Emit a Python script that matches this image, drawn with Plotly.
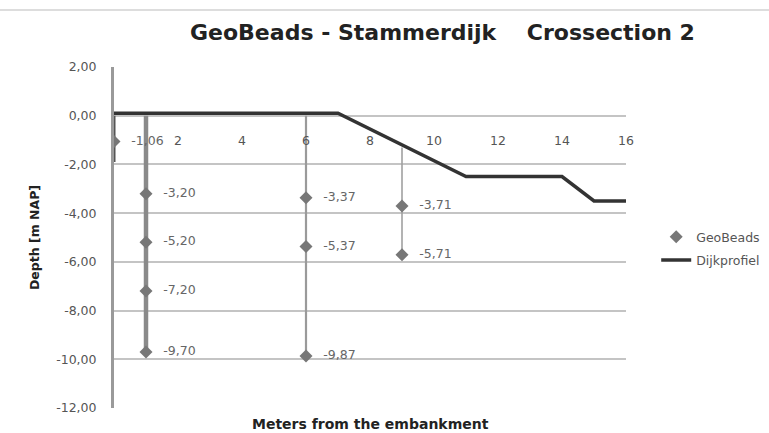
import plotly.graph_objects as go

# GeoBeads measurements (x = meters from embankment, depth in m NAP)
bead_x = [0, 1, 1, 1, 1, 6, 6, 6, 9, 9]
bead_y = [-1.06, -3.20, -5.20, -7.20, -9.70, -3.37, -5.37, -9.87, -3.71, -5.71]

# Vertical tubes holding the beads
tube_x = [0, 1, 6, 9]
tube_top = [0.0, 0.0, 0.0, -1.3]
tube_bottom = [-1.9, -9.70, -9.87, -5.71]

# Dike profile
dijk_x = [0, 7, 11, 14, 15, 16]
dijk_y = [0.1, 0.1, -2.5, -2.5, -3.5, -3.5]

x_ticks = [2, 4, 6, 8, 10, 12, 14, 16]
y_ticks = [2, 0, -2, -4, -6, -8, -10, -12]


def nl(v):
    return f"{v:.2f}".replace(".", ",")


tube_styles = [("#555555", 3), ("#8a8a8a", 4.5), ("#9a9a9a", 2.2), ("#a0a0a0", 1.6)]

NUM_FONT = "DejaVu Sans, Verdana, sans-serif"

fig = go.Figure()

for i, (tx, t0, t1) in enumerate(zip(tube_x, tube_top, tube_bottom)):
    col, w = tube_styles[i]
    fig.add_trace(go.Scatter(x=[tx, tx], y=[t0, t1], mode="lines",
                             line=dict(color=col, width=w), showlegend=False,
                             hoverinfo="skip"))

fig.add_trace(go.Scatter(
    x=bead_x, y=bead_y, mode="markers+text", name="GeoBeads",
    marker=dict(symbol="diamond", size=10, color="#777777"),
    text=["\u2009\u2009\u2009\u2009" + nl(v) for v in bead_y],
    textposition="middle right",
    textfont=dict(family=NUM_FONT, size=12.5, color="#666666"),
    legendgroup="a",
))

fig.add_trace(go.Scatter(
    x=dijk_x, y=dijk_y, mode="lines", name="Dijkprofiel",
    line=dict(color="#333333", width=3.5), legendgroup="b",
))

fig.update_layout(
    width=769, height=433,
    margin=dict(l=114, r=143, t=67, b=25, autoexpand=False),
    paper_bgcolor="white", plot_bgcolor="white",
    separators=",.",
    title=dict(text="GeoBeads - Stammerdijk\u00a0\u00a0\u00a0\u00a0Crossection 2",
               x=190 / 769, xanchor="left", xref="container",
               y=1 - 32 / 433, yanchor="middle",
               font=dict(family="DejaVu Sans, sans-serif", size=22, color="#222222", weight="bold")),
    xaxis=dict(range=[0, 16], tickvals=x_ticks, showgrid=False, zeroline=False,
               showline=False, anchor="free", position=12 / 14, automargin=False,
               ticks="outside", ticklen=13, tickcolor="rgba(0,0,0,0)",
               tickfont=dict(family=NUM_FONT, size=12.5, color="#555555")),
    yaxis=dict(range=[-12, 2], tickvals=y_ticks, ticktext=[nl(v) for v in y_ticks],
               automargin=False,
               showgrid=True, gridcolor="#c4c4c4", gridwidth=2, zeroline=False,
               showline=True, linecolor="#9a9a9a", linewidth=3,
               ticks="outside", ticklen=12, tickcolor="rgba(0,0,0,0)",
               tickfont=dict(family=NUM_FONT, size=12.5, color="#555555"),
               title=dict(text="Depth [m NAP]", standoff=14,
                          font=dict(family="DejaVu Sans, Arial", size=12.5, color="#222222", weight="bold"))),
    legend=dict(x=1.059, y=0.545, xanchor="left", yanchor="top",
                font=dict(family=NUM_FONT, size=12.5, color="#555555"),
                tracegroupgap=4, traceorder="grouped", bgcolor="rgba(0,0,0,0)"),
    annotations=[dict(text="<b>Meters from the embankment</b>", xref="paper", yref="paper",
                      x=0.5, y=(408 - 424) / 341, xanchor="center", yanchor="middle", showarrow=False,
                      font=dict(family="DejaVu Sans, Arial", size=14, color="#222222"))],
    shapes=[dict(type="line", xref="paper", yref="paper", x0=-114 / 512, x1=655 / 512 + 0.001,
                 y0=(408 - 10) / 341, y1=(408 - 10) / 341,
                 line=dict(color="#dddddd", width=2))],
)

fig.write_html("out.html", config={"displayModeBar": False},
               post_script="document.body.style.margin='0';")
